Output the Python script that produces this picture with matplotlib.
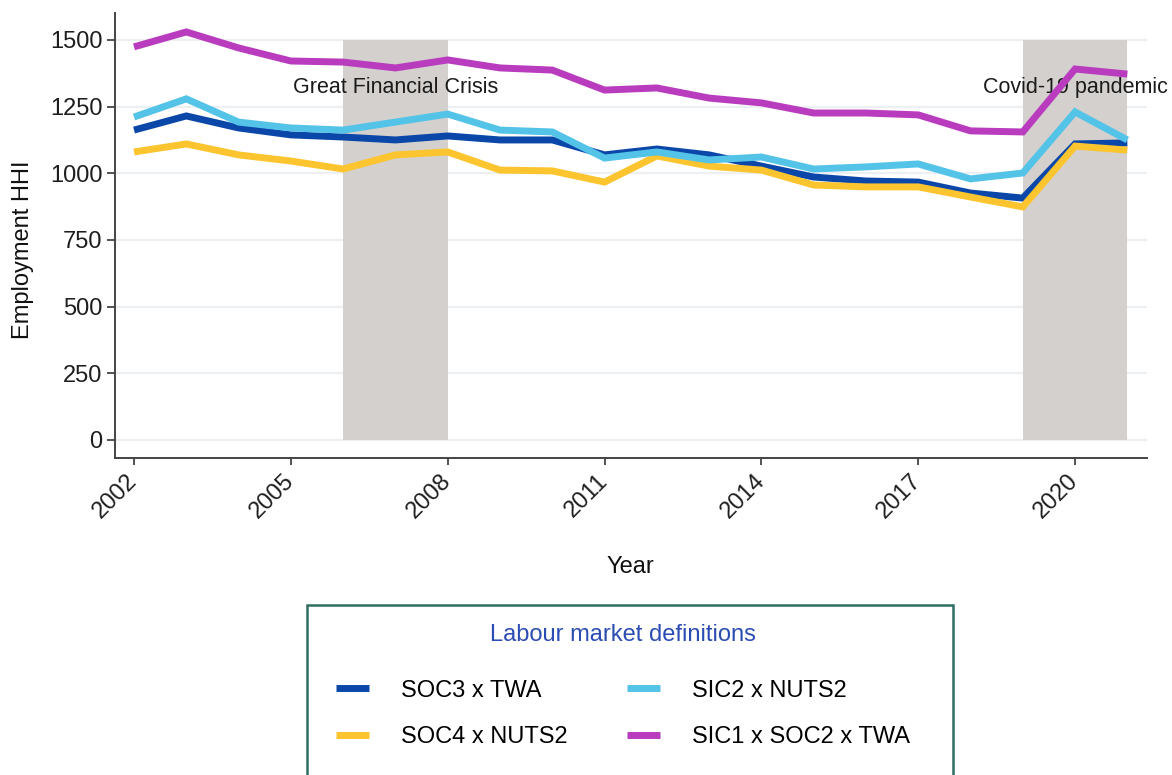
import matplotlib
matplotlib.use("Agg")
import matplotlib.pyplot as plt
from matplotlib.patches import Rectangle

plt.rcParams['font.family'] = ['Liberation Sans', 'DejaVu Sans']

years = list(range(2002, 2022))

# employment HHI by labour market definition
soc3_twa = [1162, 1215, 1170, 1144, 1136, 1125, 1140, 1125, 1125, 1069,
            1091, 1069, 1027, 986, 971, 967, 926, 907, 1110, 1114]
soc4_nuts2 = [1080, 1110, 1069, 1046, 1016, 1069, 1080, 1012, 1009, 967,
              1065, 1027, 1012, 956, 949, 949, 911, 874, 1102, 1087]
sic2_nuts2 = [1211, 1279, 1192, 1170, 1162, 1192, 1222, 1162, 1155, 1057,
              1080, 1050, 1061, 1016, 1024, 1035, 979, 1001, 1230, 1125]
sic1_soc2_twa = [1474, 1530, 1470, 1421, 1417, 1395, 1425, 1395, 1387, 1312,
                 1320, 1282, 1264, 1226, 1226, 1219, 1159, 1155, 1391, 1372]

series = [
    ("SOC3 x TWA", soc3_twa, "#0b47a9"),
    ("SOC4 x NUTS2", soc4_nuts2, "#fcc52f"),
    ("SIC2 x NUTS2", sic2_nuts2, "#54c3e8"),
    ("SIC1 x SOC2 x TWA", sic1_soc2_twa, "#b93cbf"),
]

# crisis periods (start, end, label, label position)
crises = [
    (2006, 2008, "Great Financial Crisis", 2007),
    (2019, 2021, "Covid-19 pandemic", 2020),
]
shade_top = 1500
label_y = 1320

fig = plt.figure(figsize=(11.72, 7.75), dpi=100)
W, H = 1172, 775
ax = fig.add_axes([115 / W, 1 - 458 / H, (1147 - 115) / W, (458 - 13) / H])

for start, end, name, xc in crises:
    ax.fill_between([start, end], 0, shade_top, color="#d3d0cd", lw=0, zorder=1)
    ax.text(xc, label_y, name, ha="center", va="center", fontsize=15.5,
            color="#1a1a1a", zorder=2)

for name, vals, col in series:
    ax.plot(years, vals, color=col, lw=5, label=name, zorder=3,
            solid_joinstyle="miter", solid_capstyle="butt")

ax.set_xlim(2001.636, 2021.376)
ax.set_ylim(-67.5, 1601)
ax.set_yticks([0, 250, 500, 750, 1000, 1250, 1500])
ax.set_xticks(range(2002, 2021, 3))
ax.yaxis.grid(True, color="#edf0f3", lw=1.6, zorder=0)
ax.set_axisbelow(True)

for s in ["top", "right"]:
    ax.spines[s].set_visible(False)
for s in ["left", "bottom"]:
    ax.spines[s].set_color("#444444")
    ax.spines[s].set_linewidth(1.4)

ax.tick_params(axis="both", length=6, width=1.3, color="#444444",
               labelsize=17, labelcolor="#1e1e1e", pad=3)
ax.tick_params(axis="x", length=5, pad=9)
for lab in ax.get_xticklabels():
    lab.set_rotation(45)
    lab.set_ha("right")
    lab.set_va("center")
    lab.set_rotation_mode("anchor")

ax.set_ylabel("Employment HHI", fontsize=17, color="#111111")
ax.yaxis.set_label_coords(-0.0785, 0.467)
ax.set_xlabel("Year", fontsize=17, color="#111111")
ax.xaxis.set_label_coords(0.499, -0.220)

# legend box
fig.patches.append(Rectangle((307 / W, -0.05), (953 - 307) / W, 1 - 605 / H + 0.05,
                             transform=fig.transFigure, fill=False,
                             edgecolor="#2f6e62", lw=1.8))
handles, labels = ax.get_legend_handles_labels()
leg = fig.legend(handles, labels, ncol=2, loc="upper center",
                 bbox_to_anchor=(623 / W, 1 - 603 / H), frameon=False,
                 fontsize=17, title="Labour market definitions",
                 title_fontsize=17, handlelength=1.4, handletextpad=1.38,
                 columnspacing=2.49, labelspacing=1.03)
leg.get_title().set_color("#2b4cb2")
leg._legend_box.sep = 24
for line in leg.get_lines():
    line.set_linewidth(5)

fig.savefig("out.png", dpi=100)
